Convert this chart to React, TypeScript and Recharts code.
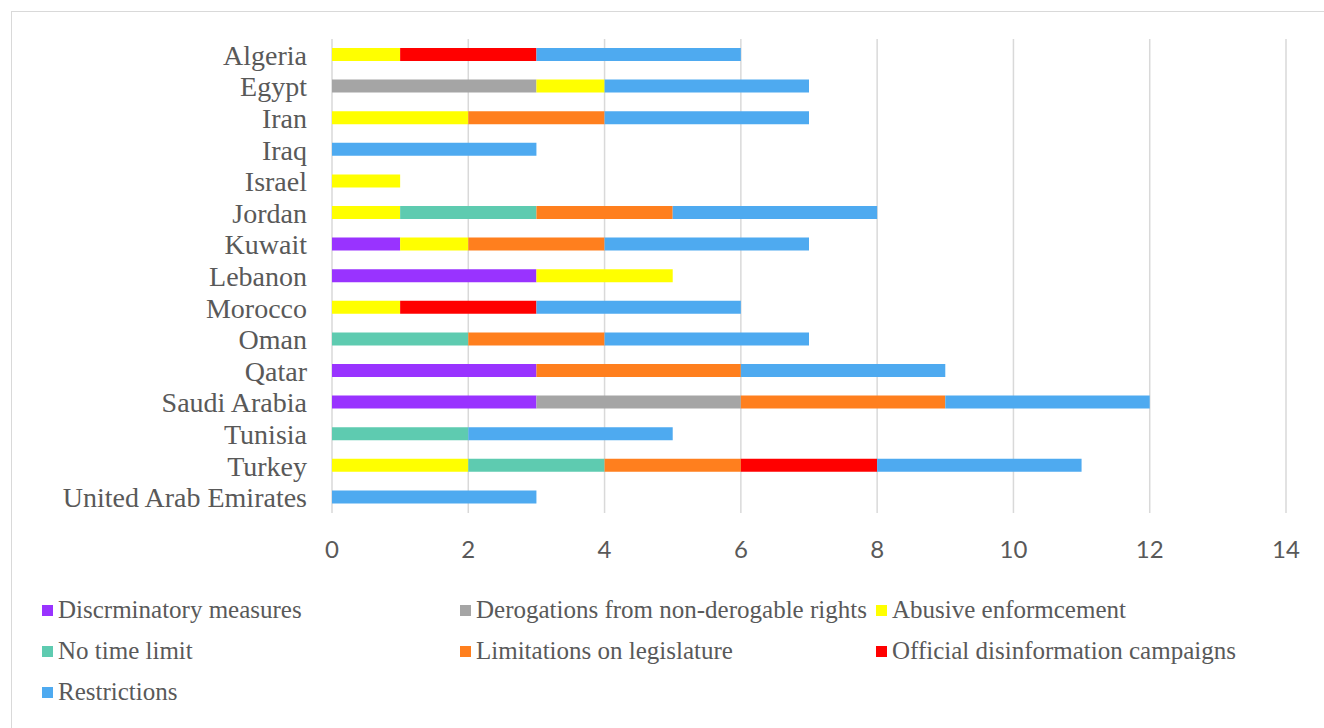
import React from 'react';
import { BarChart, Bar, XAxis, YAxis, CartesianGrid } from 'recharts';

const countries = [
  'Algeria', 'Egypt', 'Iran', 'Iraq', 'Israel', 'Jordan', 'Kuwait', 'Lebanon',
  'Morocco', 'Oman', 'Qatar', 'Saudi Arabia', 'Tunisia', 'Turkey', 'United Arab Emirates',
];

const discriminatory = [0, 0, 0, 0, 0, 0, 1, 3, 0, 0, 3, 3, 0, 0, 0];
const derogations = [0, 3, 0, 0, 0, 0, 0, 0, 0, 0, 0, 3, 0, 0, 0];
const abusive = [1, 1, 2, 0, 1, 1, 1, 2, 1, 0, 0, 0, 0, 2, 0];
const noTimeLimit = [0, 0, 0, 0, 0, 2, 0, 0, 0, 2, 0, 0, 2, 2, 0];
const limitations = [0, 0, 2, 0, 0, 2, 2, 0, 0, 2, 3, 3, 0, 2, 0];
const disinformation = [2, 0, 0, 0, 0, 0, 0, 0, 2, 0, 0, 0, 0, 2, 0];
const restrictions = [3, 3, 3, 3, 0, 3, 3, 0, 3, 3, 3, 3, 3, 3, 3];

const xTicks = [0, 2, 4, 6, 8, 10, 12, 14];

const series = [
  { key: 'discriminatory', name: 'Discrminatory measures', color: '#9933FF', values: discriminatory },
  { key: 'derogations', name: 'Derogations from non-derogable rights', color: '#A5A5A5', values: derogations },
  { key: 'abusive', name: 'Abusive enformcement', color: '#FFFF00', values: abusive },
  { key: 'noTimeLimit', name: 'No time limit', color: '#5ECBB0', values: noTimeLimit },
  { key: 'limitations', name: 'Limitations on legislature', color: '#FF7F1E', values: limitations },
  { key: 'disinformation', name: 'Official disinformation campaigns', color: '#FF0000', values: disinformation },
  { key: 'restrictions', name: 'Restrictions', color: '#4EAAF0', values: restrictions },
];

const data = countries.map((country, i) => {
  const row: any = { country };
  series.forEach(s => { row[s.key] = s.values[i]; });
  return row;
});

// legend grid: 3 columns, rows filled left to right
const legendCols = [42, 460, 876];
const legendRows = [610, 651, 692];

const App: React.FC = () => (
  <div style={{ position: 'absolute', left: 0, top: 0, width: 1324, height: 728, background: '#fff', overflow: 'hidden' }}>
    <div style={{ position: 'absolute', left: 11, top: 11, width: 1330, height: 740, border: '1.5px solid #d9d9d9' }} />
    <BarChart
      width={1324}
      height={728}
      data={data}
      layout="vertical"
      margin={{ top: 39, right: 38, left: 0, bottom: 175 }}
      barSize={13}
    >
      <CartesianGrid horizontal={false} stroke="#d9d9d9" strokeWidth={1.5} />
      <XAxis
        type="number"
        domain={[0, 14]}
        ticks={xTicks}
        axisLine={false}
        tickLine={false}
        tickSize={0}
        tickMargin={28}
        height={40}
        tick={{ fill: '#595959', fontSize: 24, fontFamily: 'Lato' }}
      />
      <YAxis
        type="category"
        dataKey="country"
        width={332}
        axisLine={false}
        tickLine={false}
        tickSize={0}
        tickMargin={25}
        interval={0}
        tick={{ fill: '#595959', fontSize: 28, fontFamily: '"Liberation Serif", serif' }}
      />
      {series.map(s => (
        <Bar key={s.key} dataKey={s.key} name={s.name} stackId="a" fill={s.color} isAnimationActive={false} />
      ))}
    </BarChart>
    {series.map((s, i) => (
      <div
        key={s.key}
        style={{
          position: 'absolute',
          left: legendCols[i % 3],
          top: legendRows[Math.floor(i / 3)] - 15,
          height: 30,
          display: 'flex',
          alignItems: 'center',
          fontFamily: '"Liberation Serif", serif',
          fontSize: 25,
          color: '#595959',
          whiteSpace: 'nowrap',
        }}
      >
        <span style={{ display: 'inline-block', width: 11, height: 11, background: s.color, marginRight: 5 }} />
        {s.name}
      </div>
    ))}
  </div>
);

export default App;
